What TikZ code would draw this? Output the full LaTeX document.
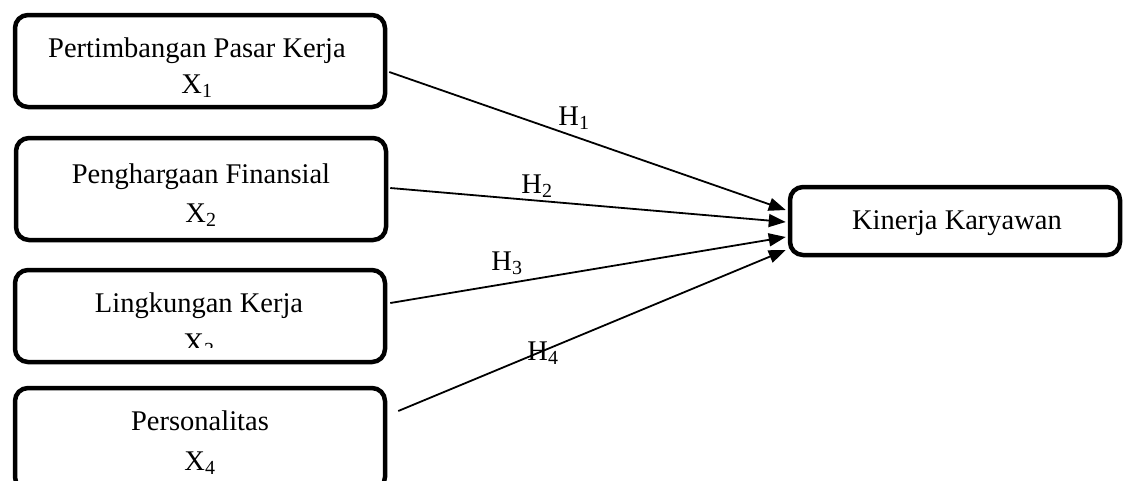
\documentclass[tikz,border=0pt]{standalone}
\usepackage{fontspec}
\setmainfont{Liberation Serif}
\usetikzlibrary{arrows.meta,calc}
\begin{document}
\begin{tikzpicture}[x=1pt,y=-1pt,
  box/.style={draw,line width=4.5pt,rounded corners=13pt,inner sep=0pt},
  lbl/.style={font=\fontsize{28.5}{34}\selectfont,inner sep=0pt,anchor=base},
  conn/.style={line width=1.8pt,-{Triangle[length=17pt,width=13pt]}},
]
\useasboundingbox (0,0) rectangle (1124,480);
\clip (0,0) rectangle (1124,480);
% boxes
\node[box,minimum width=370pt,minimum height=92pt] (b1) at (200,61) {};
\node[box,minimum width=370pt,minimum height=102pt] (b2) at (201,189) {};
\node[box,minimum width=370pt,minimum height=92pt] (b3) at (200,316) {};
\node[box,minimum width=370pt,minimum height=102pt] (b4) at (200,439) {};
\node[box,minimum width=330pt,minimum height=68pt] (k) at (955,221) {};
% texts
\node[lbl] (t1) at (197,57) {Pertimbangan Pasar Kerja};
\node[lbl] (x1) at (197,93) {X\textsubscript{1}};
\node[lbl] (t2) at (201,183) {Penghargaan Finansial};
\node[lbl] (x2) at (201,222) {X\textsubscript{2}};
\node[lbl] (t3) at (199,312) {Lingkungan Kerja};
\begin{scope}
\clip (0,0) rectangle (1124,347);
\node[lbl] (x3) at (199,352) {X\textsubscript{3}};
\end{scope}
\node[lbl] (t4) at (200,430) {Personalitas};
\node[lbl] (x4) at (200,470) {X\textsubscript{4}};
\node[lbl] (tk) at (957,229) {Kinerja Karyawan};
% connector end points
\coordinate (s1) at ($(b1.east)+(2,11)$);
\coordinate (s2) at ($(b2.east)+(2,-1)$);
\coordinate (s3) at ($(b3.east)+(3,-13)$);
\coordinate (s4) at ($(b4.east)+(11,-28)$);
\coordinate (e1) at ($(k.west)+(-2,-11)$);
\coordinate (e2) at ($(k.west)+(-2,1)$);
\coordinate (e3) at ($(k.west)+(-2,16)$);
\coordinate (e4) at ($(k.west)+(-2,29)$);
\draw[conn] (s1) -- (e1);
\draw[conn] (s2) -- (e2);
\draw[conn] (s3) -- (e3);
\draw[conn] (s4) -- (e4);
% labels
\node[lbl] (h1) at (574,125) {H\textsubscript{1}};
\node[lbl] (h2) at (537,193) {H\textsubscript{2}};
\node[lbl] (h3) at (507,270) {H\textsubscript{3}};
\node[lbl] (h4) at (543,360) {H\textsubscript{4}};
\end{tikzpicture}
\end{document}
